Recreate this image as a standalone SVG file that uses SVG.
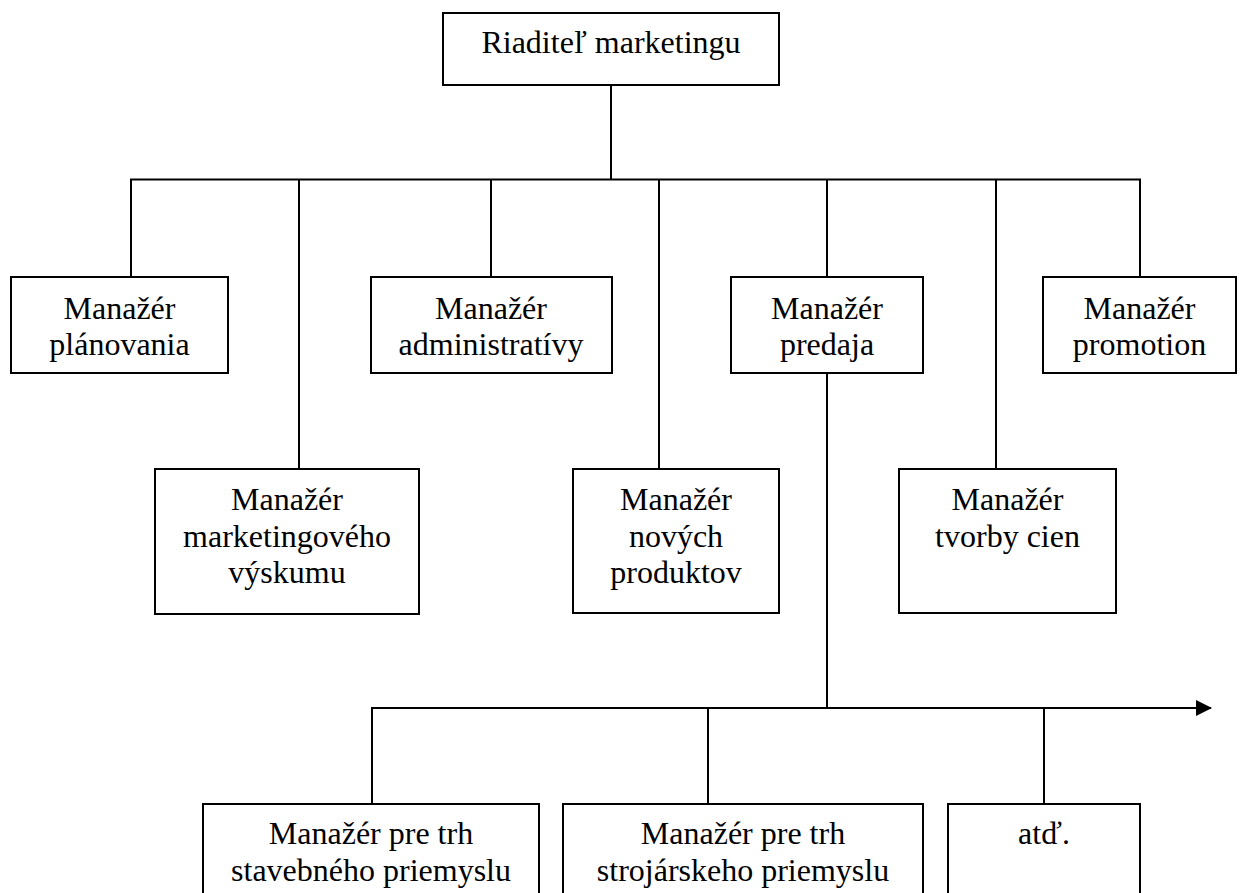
<svg xmlns="http://www.w3.org/2000/svg" width="1241" height="893" viewBox="0 0 1241 893">
  <style>
    .box { fill: #ffffff; stroke: #000000; stroke-width: 2; }
    .lbl { font-family: 'Liberation Serif', 'DejaVu Serif', serif; font-size: 32px; fill: #000000; text-anchor: middle; }
    .wire { fill: none; stroke: #000000; stroke-width: 2; }
  </style>
  <defs>
    <marker id="arrowhead" markerWidth="16" markerHeight="16" refX="15" refY="8" orient="auto" markerUnits="userSpaceOnUse">
      <path d="M0,0 L16,8 L0,16 Z" fill="#000000"/>
    </marker>
  </defs>
  <rect width="1241" height="893" fill="#ffffff"/>

  <!-- connectors -->
  <g id="connectors">
    <line class="wire" x1="611" y1="85" x2="611" y2="179.5"/>
    <line class="wire" x1="130" y1="179.5" x2="1141" y2="179.5"/>
    <line class="wire" x1="131" y1="179.5" x2="131" y2="277"/>
    <line class="wire" x1="299" y1="179.5" x2="299" y2="469"/>
    <line class="wire" x1="491" y1="179.5" x2="491" y2="277"/>
    <line class="wire" x1="659" y1="179.5" x2="659" y2="469"/>
    <line class="wire" x1="827" y1="179.5" x2="827" y2="277"/>
    <line class="wire" x1="996" y1="179.5" x2="996" y2="469"/>
    <line class="wire" x1="1140" y1="179.5" x2="1140" y2="277"/>
    <line class="wire" x1="827" y1="373" x2="827" y2="708"/>
    <line class="wire" x1="371" y1="708" x2="1211" y2="708" marker-end="url(#arrowhead)"/>
    <line class="wire" x1="372" y1="708" x2="372" y2="804"/>
    <line class="wire" x1="708" y1="708" x2="708" y2="804"/>
    <line class="wire" x1="1044" y1="708" x2="1044" y2="804"/>
  </g>

  <g id="riaditel">
    <rect class="box" x="443" y="13" width="336" height="72"/>
    <text class="lbl" x="611" y="53" font-family="Liberation Serif">Riaditeľ marketingu</text>
  </g>

  <g id="planovanie">
    <rect class="box" x="11" y="277" width="217" height="96"/>
    <text class="lbl" x="119.5" y="319">Manažér</text>
    <text class="lbl" x="119.5" y="355">plánovania</text>
  </g>

  <g id="administrativa">
    <rect class="box" x="371" y="277" width="241" height="96"/>
    <text class="lbl" x="491" y="319">Manažér</text>
    <text class="lbl" x="491" y="355">administratívy</text>
  </g>

  <g id="predaj">
    <rect class="box" x="731" y="277" width="192" height="96"/>
    <text class="lbl" x="827" y="319">Manažér</text>
    <text class="lbl" x="827" y="355">predaja</text>
  </g>

  <g id="promotion">
    <rect class="box" x="1043" y="277" width="193" height="96"/>
    <text class="lbl" x="1139.5" y="319">Manažér</text>
    <text class="lbl" x="1139.5" y="355">promotion</text>
  </g>

  <g id="vyskum">
    <rect class="box" x="155" y="469" width="264" height="145"/>
    <text class="lbl" x="287" y="510">Manažér</text>
    <text class="lbl" x="287" y="546.5">marketingového</text>
    <text class="lbl" x="287" y="583">výskumu</text>
  </g>

  <g id="nove-produkty">
    <rect class="box" x="573" y="469" width="206" height="144"/>
    <text class="lbl" x="676" y="510">Manažér</text>
    <text class="lbl" x="676" y="546.5">nových</text>
    <text class="lbl" x="676" y="583">produktov</text>
  </g>

  <g id="tvorba-cien">
    <rect class="box" x="899" y="469" width="217" height="144"/>
    <text class="lbl" x="1007.5" y="510">Manažér</text>
    <text class="lbl" x="1007.5" y="546.5">tvorby cien</text>
  </g>

  <g id="trh-stavebny">
    <rect class="box" x="203" y="804" width="336" height="100"/>
    <text class="lbl" x="371" y="844">Manažér pre trh</text>
    <text class="lbl" x="371" y="881">stavebného priemyslu</text>
  </g>

  <g id="trh-strojarsky">
    <rect class="box" x="563" y="804" width="360" height="100"/>
    <text class="lbl" x="743" y="844">Manažér pre trh</text>
    <text class="lbl" x="743" y="881">strojárskeho priemyslu</text>
  </g>

  <g id="atd">
    <rect class="box" x="948" y="804" width="192" height="100"/>
    <text class="lbl" x="1044" y="844">atď.</text>
  </g>
</svg>
